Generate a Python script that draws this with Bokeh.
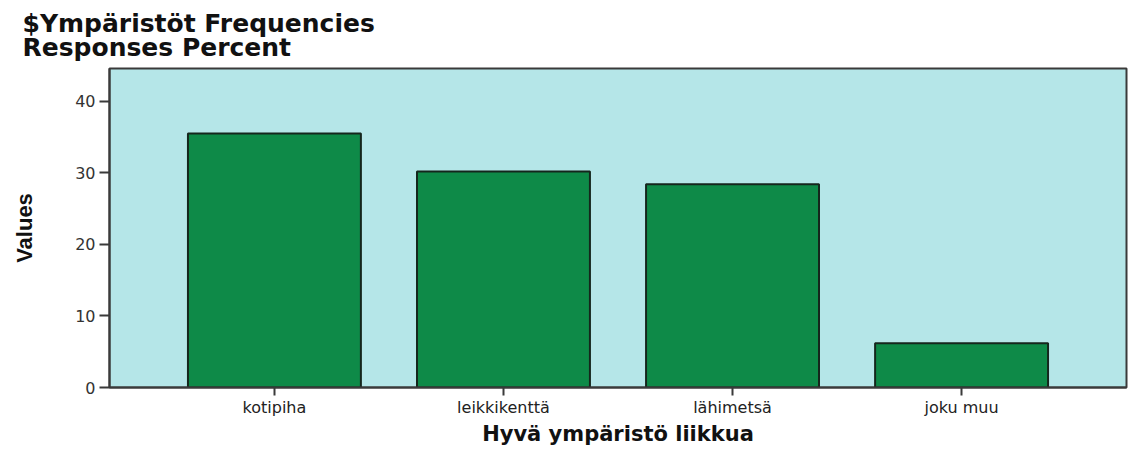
from bokeh.plotting import figure
from bokeh.models import FactorRange, Range1d, FixedTicker
from bokeh.embed import file_html
from bokeh.resources import INLINE

categories = ["kotipiha", "leikkikenttä", "lähimetsä", "joku muu"]
percent = [35.5, 30.2, 28.4, 6.2]
y_ticks = [0, 10, 20, 30, 40]

p = figure(
    width=1130, height=448,
    x_range=FactorRange(factors=categories, range_padding=0.22, range_padding_units="absolute"),
    y_range=Range1d(0, 44.6),
    output_backend="svg", toolbar_location=None,
    min_border_left=109, min_border_right=4, min_border_top=68, min_border_bottom=61,
)

p.title.text = "$Ympäristöt Frequencies\nResponses Percent"
p.title.text_font = "DejaVu Sans"
p.title.text_font_size = "25px"
p.title.text_font_style = "bold"
p.title.text_color = "#111111"
p.title.offset = -87
p.title.standoff = 12
p.title.text_line_height = 0.85

p.vbar(x=categories, top=percent, width=0.755, fill_color="#0e8a48",
       line_color="#15261c", line_width=2)

p.background_fill_color = "#b5e6e8"
p.border_fill_color = "white"
p.outline_line_color = "#3a3a3a"
p.outline_line_width = 2
p.xgrid.grid_line_color = None
p.ygrid.grid_line_color = None

p.yaxis.ticker = FixedTicker(ticks=y_ticks)
p.yaxis.minor_tick_line_color = None
p.yaxis.major_tick_out = 10
p.yaxis.major_tick_in = 0
p.yaxis.major_tick_line_color = "#3a3a3a"
p.yaxis.major_tick_line_width = 2
p.yaxis.axis_line_color = "#3a3a3a"
p.yaxis.axis_line_width = 2
p.yaxis.major_label_text_font = "DejaVu Sans"
p.yaxis.major_label_text_font_size = "16px"
p.yaxis.major_label_text_color = "#333333"
p.yaxis.major_label_standoff = 4
p.yaxis.axis_label = "Values"
p.yaxis.axis_label_text_font = "'Liberation Sans Narrow', 'Liberation Sans', sans-serif"
p.yaxis.axis_label_text_font_size = "22px"
p.yaxis.axis_label_text_font_style = "bold"
p.yaxis.axis_label_text_color = "#111111"
p.yaxis.axis_label_standoff = 35

p.xaxis.major_tick_out = 8
p.xaxis.major_tick_in = 0
p.xaxis.major_tick_line_color = "#3a3a3a"
p.xaxis.major_tick_line_width = 2
p.xaxis.axis_line_color = "#3a3a3a"
p.xaxis.axis_line_width = 2
p.xaxis.major_label_text_font = "DejaVu Sans"
p.xaxis.major_label_text_font_size = "16px"
p.xaxis.major_label_text_color = "#222222"
p.xaxis.major_label_standoff = 2
p.xaxis.axis_label = "Hyvä ympäristö liikkua"
p.xaxis.axis_label_text_font = "DejaVu Sans"
p.xaxis.axis_label_text_font_size = "21px"
p.xaxis.axis_label_text_font_style = "bold"
p.xaxis.axis_label_text_color = "#111111"
p.xaxis.axis_label_standoff = 2

open("out.html", "w").write(file_html(p, INLINE))
